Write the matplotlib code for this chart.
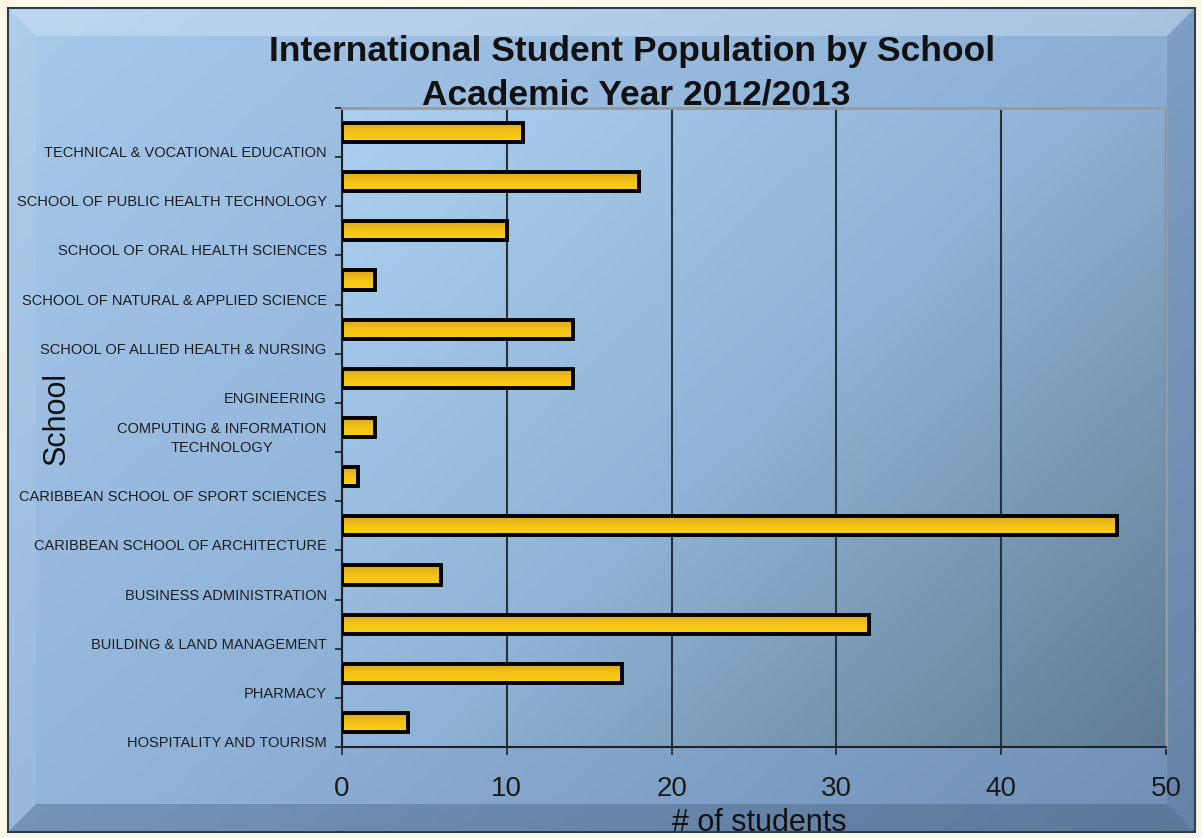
import numpy as np
import matplotlib.pyplot as plt
from matplotlib.colors import LinearSegmentedColormap
from matplotlib.patches import Polygon, Rectangle

plt.rcParams['font.family'] = ['Liberation Sans', 'DejaVu Sans']

# data, listed top to bottom as in the chart
schools = [
    "TECHNICAL & VOCATIONAL EDUCATION",
    "SCHOOL OF PUBLIC HEALTH TECHNOLOGY",
    "SCHOOL OF ORAL HEALTH SCIENCES",
    "SCHOOL OF NATURAL & APPLIED SCIENCE",
    "SCHOOL OF ALLIED HEALTH & NURSING",
    "ENGINEERING",
    "COMPUTING & INFORMATION\nTECHNOLOGY",
    "CARIBBEAN SCHOOL OF SPORT SCIENCES",
    "CARIBBEAN SCHOOL OF ARCHITECTURE",
    "BUSINESS ADMINISTRATION",
    "BUILDING & LAND MANAGEMENT",
    "PHARMACY",
    "HOSPITALITY AND TOURISM",
]
students = [11, 18, 10, 2, 14, 14, 2, 1, 47, 6, 32, 17, 4]
x_ticks = [0, 10, 20, 30, 40, 50]

W, H = 1202, 838
fig = plt.figure(figsize=(W / 100, H / 100), dpi=100)
fig.patch.set_facecolor('#fdf8e6')

# background frame with diagonal gradient + bevel
bg = fig.add_axes([0, 0, 1, 1])
bg.set_xlim(0, W)
bg.set_ylim(H, 0)
bg.axis('off')

def diag(n=300):
    xx, yy = np.meshgrid(np.linspace(0, 1, n), np.linspace(0, 1, n))
    return (xx * 0.55 + yy * 0.45)

frame_cmap = LinearSegmentedColormap.from_list('frame', ['#a7c9ea', '#8fb2d8', '#6f8fb4'])
L, T, R, B = 8, 8, 1195, 832
bg.imshow(diag(), cmap=frame_cmap, extent=[L, R, B, T], aspect='auto', zorder=0)
bw = 28
bg.add_patch(Polygon([[L, T], [R, T], [R - bw, T + bw], [L + bw, T + bw]],
                     closed=True, facecolor='white', alpha=0.25, lw=0, zorder=1))
bg.add_patch(Polygon([[L, T], [L + bw, T + bw], [L + bw, B - bw], [L, B]],
                     closed=True, facecolor='white', alpha=0.08, lw=0, zorder=1))
bg.add_patch(Polygon([[R, T], [R, B], [R - bw, B - bw], [R - bw, T + bw]],
                     closed=True, facecolor='#1c3550', alpha=0.12, lw=0, zorder=1))
bg.add_patch(Polygon([[L, B], [R, B], [R - bw, B - bw], [L + bw, B - bw]],
                     closed=True, facecolor='#1c3550', alpha=0.25, lw=0, zorder=1))
bg.add_patch(Rectangle((L, T), R - L, B - T, fill=False, edgecolor='#2c3e50', lw=1.5, zorder=2))

# main axes
x0, x1, y0, y1 = 342, 1166, 108, 747
ax = fig.add_axes([x0 / W, 1 - y1 / H, (x1 - x0) / W, (y1 - y0) / H])
ax.set_facecolor('none')
plot_cmap = LinearSegmentedColormap.from_list('plot', ['#acd0f0', '#8fb3d6', '#5f7c93'])
ax.imshow(diag(), cmap=plot_cmap, extent=[0, 1, 0, 1], transform=ax.transAxes,
          aspect='auto', zorder=0)

y = np.arange(len(schools))
bars = ax.barh(y, students, height=0.39, color='none', edgecolor='black',
               linewidth=2.8, zorder=4)
# gold gradient fill (darker on top, bright at bottom)
gold = LinearSegmentedColormap.from_list('gold', ['#d8a41f', '#f3c218', '#fad015'])
grad = np.linspace(0, 1, 64).reshape(-1, 1)
for b in bars:
    bx, by = b.get_x(), b.get_y()
    im = ax.imshow(grad, cmap=gold, extent=[bx, bx + b.get_width(), by + b.get_height(), by],
                   aspect='auto', zorder=3)
    im.set_clip_path(b)

ax.set_xlim(0, 50)
ax.set_ylim(len(schools) - 0.5, -0.5)
ax.set_xticks(x_ticks)
ax.set_xticklabels([str(v) for v in x_ticks], fontsize=20, color='#1a1a1a')
ax.grid(axis='x', color='#26313b', linewidth=1.5, zorder=1)
ax.set_axisbelow(True)

bounds = np.arange(len(schools) + 1) - 0.5
ax.set_yticks(bounds)
ax.set_yticklabels([''] + schools, fontsize=10.5, color='#1e1e1e', va='baseline',
                   multialignment='center', linespacing=1.5)
ax.tick_params(axis='y', length=5, width=1.2, pad=6, color='#222222')
ax.tick_params(axis='x', length=6, width=1.2, pad=15, color='#222222')

for s in ['top', 'right']:
    ax.spines[s].set_color('#9a9a9a')
    ax.spines[s].set_linewidth(2)
for s in ['left', 'bottom']:
    ax.spines[s].set_color('#222222')
    ax.spines[s].set_linewidth(1.5)

fig.text(632 / W, 1 - 52 / H, 'International Student Population by School',
         ha='center', va='center', fontsize=25.5, fontweight='bold', color='#111111')
fig.text(636 / W, 1 - 95 / H, 'Academic Year 2012/2013',
         ha='center', va='center', fontsize=25.5, fontweight='bold', color='#111111')
fig.text(759 / W, 1 - 823 / H, '# of students', ha='center', va='center',
         fontsize=22, color='#111111')
fig.text(57 / W, 1 - 418 / H, 'School', ha='center', va='center', rotation=90,
         fontsize=22, color='#111111')

fig.savefig('out.png', dpi=100)
